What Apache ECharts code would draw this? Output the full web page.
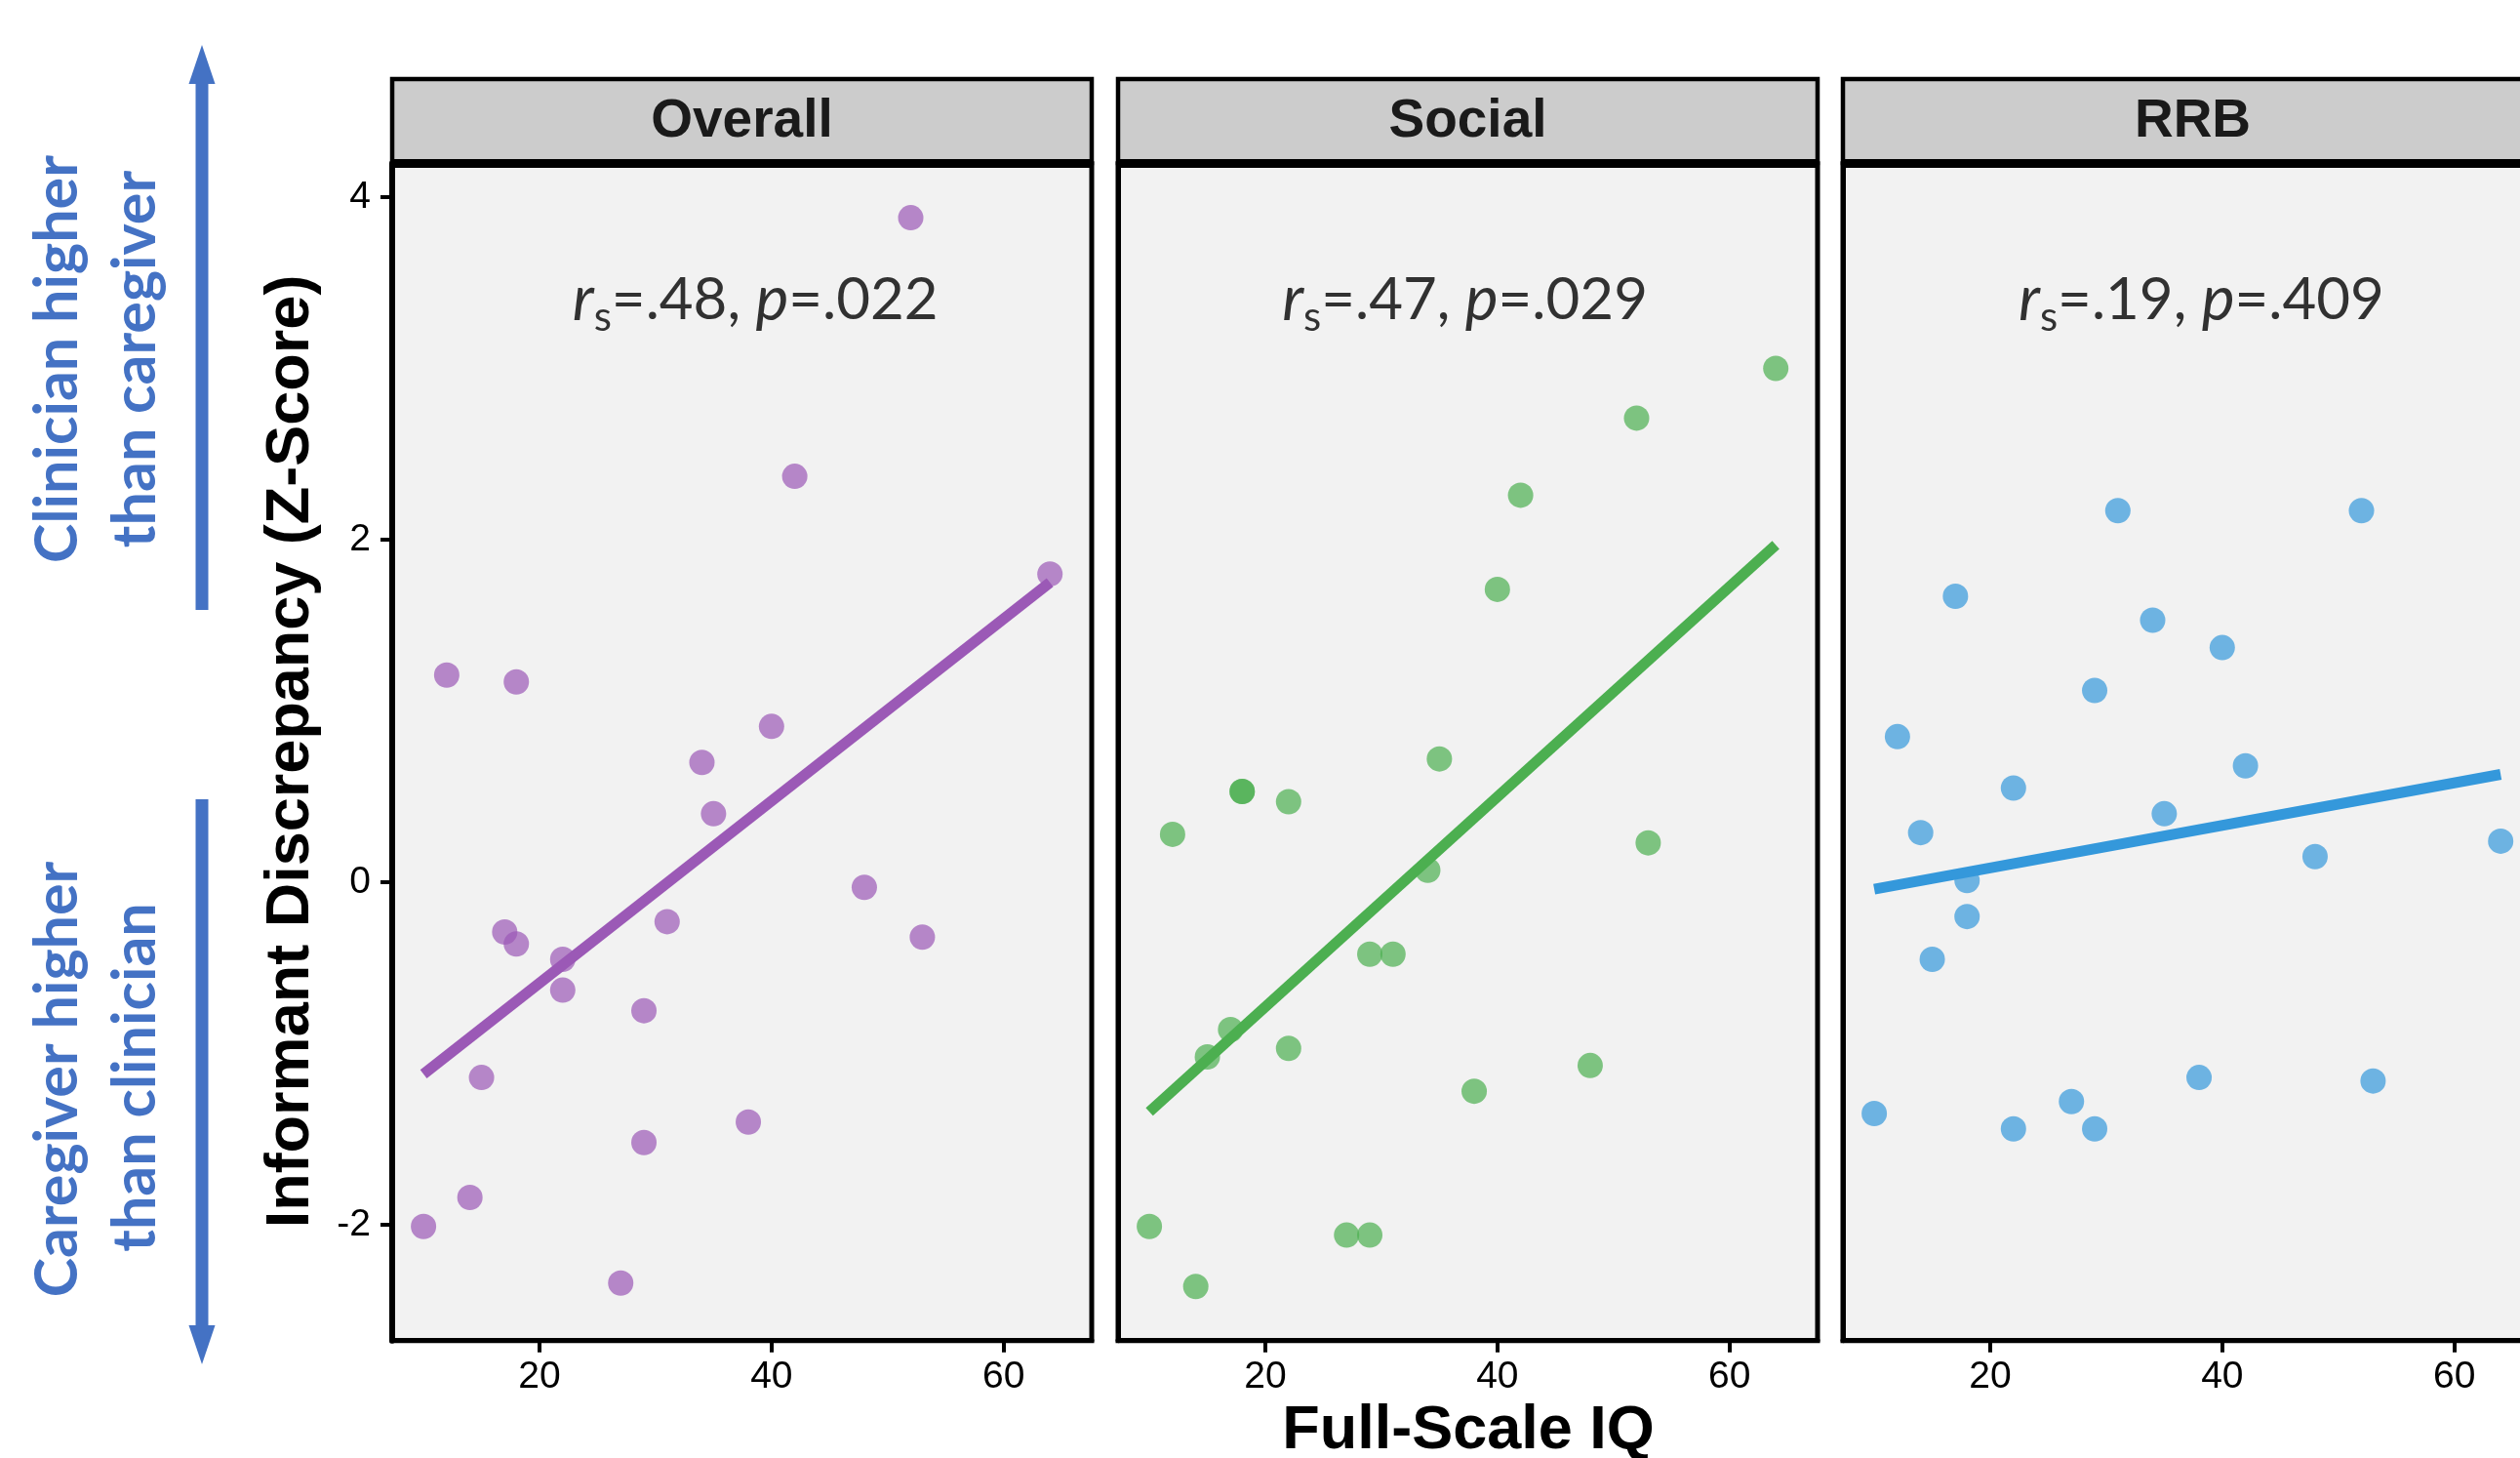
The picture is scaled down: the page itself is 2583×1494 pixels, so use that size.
<!DOCTYPE html>
<html>
<head>
<meta charset="utf-8">
<script src="https://cdn.jsdelivr.net/npm/echarts@6/dist/echarts.min.js"></script>
<style>
  html, body { margin: 0; padding: 0; background: #fff; }
  #chart { width: 2583px; height: 1494px; }
</style>
</head>
<body>
<div id="chart"></div>
<script>
// facet names and the spearman annotations
const panelNames = ['Overall', 'Social', 'RRB'];
const statR = ['.48', '.47', '.19'];
const statP = ['.022', '.029', '.409'];
const statX = [38.6, 37.2, 38.2];
const statY = 3.4;

// tick labels
const xTicks = [20, 40, 60];
const yTicks = [-2, 0, 2, 4];

// [Full-Scale IQ, informant discrepancy z-score]
const overallPts = [[10, -2.01], [12, 1.21], [14, -1.84], [15, -1.14], [17, -0.29], [18, 1.17], [18, -0.36],
  [22, -0.45], [22, -0.63], [27, -2.34], [29, -0.75], [29, -1.52], [31, -0.23], [34, 0.70], [35, 0.40],
  [38, -1.40], [40, 0.91], [42, 2.37], [48, -0.03], [52, 3.88], [53, -0.32], [64, 1.80]];
const socialPts = [[10, -2.01], [12, 0.28], [14, -2.36], [15, -1.02], [17, -0.86], [18, 0.53], [18, 0.53],
  [22, 0.47], [22, -0.97], [27, -2.06], [29, -0.42], [29, -2.06], [31, -0.42], [34, 0.07], [35, 0.72],
  [38, -1.22], [40, 1.71], [42, 2.26], [48, -1.07], [52, 2.71], [53, 0.23], [64, 3.00]];
const rrbPts = [[10, -1.35], [12, 0.85], [14, 0.29], [15, -0.45], [17, 1.67], [18, 0.01], [18, -0.20],
  [22, 0.55], [22, -1.44], [27, -1.28], [29, 1.12], [29, -1.44], [31, 2.17], [34, 1.53], [35, 0.40],
  [38, -1.14], [40, 1.37], [42, 0.68], [48, 0.15], [52, 2.17], [53, -1.16], [64, 0.24]];

// fitted lines, end points
const overallFit = [[10, -1.12], [64, 1.75]];
const socialFit = [[10, -1.34], [64, 1.97]];
const rrbFit = [[10, -0.04], [64, 0.63]];

(function () {
    const chart = echarts.init(document.getElementById('chart'));

    const ptsList = [overallPts, socialPts, rrbPts];
    const fitList = [overallFit, socialFit, rrbFit];
    const colors = ['#9B59B6', '#4CAF50', '#3498DB'];
    const lefts = [402, 1146, 1889];
    const gTop = 167.8;
    const gW = 717;
    const gH = 1205.9;
    const blue = '#4472C4';
    const sansBold = 'bold 63px "Liberation Sans", Arial, sans-serif';

    const grid = [], xAxis = [], yAxis = [], series = [], graphic = [];

    lefts.forEach((left, i) => {
        grid.push({
            left: left, top: gTop, width: gW, height: gH,
            containLabel: false, outerBoundsMode: 'none',
            show: true, backgroundColor: '#F2F2F2', borderColor: '#000', borderWidth: 5
        });
        xAxis.push({
            type: 'value', gridIndex: i, min: 7.3, max: 67.6,
            splitLine: { show: false },
            axisLine: { show: true, onZero: false, lineStyle: { color: '#000', width: 5 } },
            axisTick: { show: true, customValues: xTicks, length: 12, lineStyle: { color: '#000', width: 4 } },
            axisLabel: {
                show: true, customValues: xTicks, margin: 18, color: '#000',
                fontFamily: '"Liberation Sans", Arial, sans-serif', fontSize: 39
            }
        });
        yAxis.push({
            type: 'value', gridIndex: i, min: -2.676, max: 4.195,
            splitLine: { show: false },
            axisLine: { show: true, onZero: false, lineStyle: { color: '#000', width: i === 0 ? 6 : 5 } },
            axisTick: { show: i === 0, customValues: yTicks, length: 12, lineStyle: { color: '#000', width: 4 } },
            axisLabel: {
                show: i === 0, customValues: yTicks, margin: 22, color: '#000',
                fontFamily: '"Liberation Sans", Arial, sans-serif', fontSize: 39
            }
        });

        series.push({
            type: 'scatter', xAxisIndex: i, yAxisIndex: i, data: ptsList[i],
            symbolSize: 26, itemStyle: { color: colors[i], opacity: 0.7 }, z: 2, silent: true
        });
        series.push({
            type: 'line', xAxisIndex: i, yAxisIndex: i, data: fitList[i],
            showSymbol: false, symbol: 'none', lineStyle: { color: colors[i], width: 11 }, z: 3, silent: true
        });
        series.push({
            type: 'scatter', xAxisIndex: i, yAxisIndex: i, data: [[statX[i], statY]],
            symbolSize: 0, z: 4, silent: true,
            label: {
                show: true, position: 'inside',
                formatter: '{i|r}{s|s}{n|=' + statR[i] + ', }{i|p}{n|=' + statP[i] + '}',
                rich: {
                    n: { fontFamily: 'Lato', fontSize: 60, lineHeight: 78, color: '#000' },
                    i: { fontFamily: 'Lato', fontStyle: 'italic', fontSize: 64, lineHeight: 78, color: '#000' },
                    s: { fontFamily: 'Lato', fontSize: 42, lineHeight: 42, verticalAlign: 'bottom', color: '#000' }
                }
            }
        });

        // facet strip
        graphic.push({
            type: 'rect', shape: { x: left, y: 81, width: gW, height: 86 },
            style: { fill: '#CCCCCC', stroke: '#000', lineWidth: 4.5 }, z: 10
        });
        graphic.push({
            type: 'rect', shape: { x: left - 2, y: 163, width: gW + 4, height: 9 },
            style: { fill: '#000' }, z: 11
        });
        graphic.push({
            type: 'text', x: left + gW / 2, y: 125, z: 12,
            style: {
                text: panelNames[i], fill: '#1A1A1A', align: 'center', verticalAlign: 'middle',
                font: 'bold 55px "Liberation Sans", Arial, sans-serif'
            }
        });
    });

    // axis titles
    graphic.push({
        type: 'text', x: 1505, y: 1467, z: 12,
        style: { text: 'Full-Scale IQ', fill: '#000', align: 'center', verticalAlign: 'middle', font: sansBold }
    });
    graphic.push({
        type: 'text', x: 299, y: 770, rotation: Math.PI / 2, z: 12,
        style: {
            text: 'Informant Discrepancy (Z-Score)', fill: '#000',
            align: 'center', verticalAlign: 'middle', font: sansBold
        }
    });

    // direction notes on the far left
    const noteFont = 'bold 61px Lato, sans-serif';
    [['Clinician higher', 59, 368], ['than caregiver', 139, 368],
     ['Caregiver higher', 59, 1106], ['than clinician', 139, 1104]].forEach(n => {
        graphic.push({
            type: 'text', x: n[1], y: n[2], rotation: Math.PI / 2, z: 12,
            style: { text: n[0], fill: blue, align: 'center', verticalAlign: 'middle', font: noteFont }
        });
    });

    // arrows
    graphic.push({ type: 'rect', shape: { x: 200.5, y: 84, width: 13, height: 541 }, style: { fill: blue }, z: 12 });
    graphic.push({ type: 'polygon', shape: { points: [[207, 46], [193.5, 86], [220.5, 86]] }, style: { fill: blue }, z: 12 });
    graphic.push({ type: 'rect', shape: { x: 200.5, y: 819, width: 13, height: 541 }, style: { fill: blue }, z: 12 });
    graphic.push({ type: 'polygon', shape: { points: [[207, 1398], [193.5, 1358], [220.5, 1358]] }, style: { fill: blue }, z: 12 });

    chart.setOption({
        animation: false,
        backgroundColor: '#fff',
        grid, xAxis, yAxis, series, graphic
    });
})();
</script>
</body>
</html>
